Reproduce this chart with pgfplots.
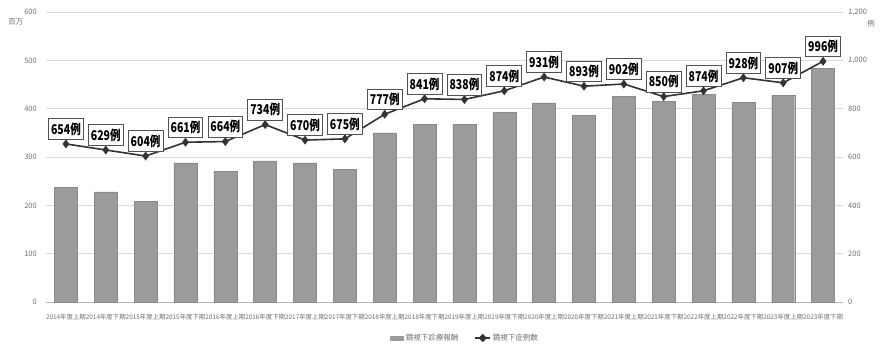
\documentclass[border=0pt]{standalone}
\usepackage{pgfplots}
\pgfplotsset{compat=1.18}
\usepackage{fontspec}
\setmainfont{Noto Sans CJK JP}
\newfontfamily\labfont[FakeStretch=0.78]{Noto Sans CJK JP}
\definecolor{bargray}{HTML}{9B9B9B}
\definecolor{baredge}{HTML}{8A8A8A}
\definecolor{gridc}{HTML}{D9D9D9}
\definecolor{tickc}{HTML}{6E6E6E}
\definecolor{linec}{HTML}{333333}
\begin{document}
\begin{tikzpicture}
\path[use as bounding box] (0,0) rectangle (890pt,353pt);
\begin{axis}[
  at={(46pt,51pt)}, anchor=south west, scale only axis,
  width=797pt, height=290pt,
  xmin=-0.5, xmax=19.5, ymin=0, ymax=600,
  ytick={0,100,...,600},
  xtick={0,...,19},
  xticklabels={2014年度上期,2014年度下期,2015年度上期,2015年度下期,2016年度上期,2016年度下期,2017年度上期,2017年度下期,2018年度上期,2018年度下期,2019年度上期,2019年度下期,2020年度上期,2020年度下期,2021年度上期,2021年度下期,2022年度上期,2022年度下期,2023年度上期,2023年度下期},
  xticklabel style={font=\fontsize{6.4}{7}\selectfont, text=tickc, inner sep=0pt, yshift=-12pt},
  yticklabel style={font=\fontsize{7.5}{8}\selectfont, text=tickc, inner sep=0pt, xshift=-9pt},
  /pgf/number format/assume math mode=true,
  major tick length=0pt,
  separate axis lines,
  axis x line*=bottom, axis y line*=left,
  x axis line style={draw=gray!55, line width=0.8pt, -},
  y axis line style={draw=none},
  ymajorgrids, grid style={gridc, line width=0.8pt},
]
\addplot[ybar, bar width=23pt, fill=bargray, draw=baredge] coordinates {
(0,237) (1,228) (2,208) (3,288) (4,271) (5,292) (6,288) (7,274)
(8,350) (9,368) (10,367) (11,392) (12,412) (13,386) (14,426) (15,415)
(16,430) (17,413) (18,427) (19,483)};
\end{axis}
\begin{axis}[
  at={(46pt,51pt)}, anchor=south west, scale only axis,
  width=797pt, height=290pt,
  xmin=-0.5, xmax=19.5, ymin=0, ymax=1200,
  ytick={0,200,...,1200},
  xtick=\empty,
  hide x axis,
  axis y line*=right,
  y axis line style={draw=none},
  major tick length=0pt,
  yticklabel style={font=\fontsize{7.5}{8}\selectfont, text=tickc, inner sep=0pt, xshift=5pt, anchor=west},
  /pgf/number format/.cd, 1000 sep={,}, assume math mode=true,
  /pgfplots/.cd,
  clip=false,
  legend style={at={(0.526,-0.124)}, anchor=center, draw=none, fill=none,
    legend columns=2, font=\fontsize{7.5}{8}\selectfont, text=tickc,
    /tikz/every even column/.append style={column sep=14pt},
    inner sep=0pt},
]
\addlegendimage{legend image code/.code={\fill[bargray] (0pt,-2pt) rectangle (13pt,2pt);}}
\addlegendentry{鏡視下診療報酬}
\addplot[linec, line width=1.6pt, mark=diamond*, mark size=3.2pt,
  mark options={fill=linec, draw=linec},
  nodes near coords={\pgfmathprintnumber[assume math mode=true]{\pgfplotspointmeta}例},
  every node near coord/.append style={font=\labfont\bfseries\fontsize{13.5}{14}\selectfont,
    text=black, draw=linec!85, fill=white, line width=0.8pt, anchor=south, yshift=4pt,
    inner xsep=2.5pt, inner ysep=4pt},
  legend image code/.code={\draw[linec, line width=1.6pt] (0pt,0pt) -- (15pt,0pt); \fill[linec] (7.5pt,0pt) +(0,3pt) -- +(3pt,0) -- +(0,-3pt) -- +(-3pt,0) -- cycle;}
] coordinates {
(0,654) (1,629) (2,604) (3,661) (4,664) (5,734) (6,670) (7,675)
(8,777) (9,841) (10,838) (11,874) (12,931) (13,893) (14,902) (15,850)
(16,874) (17,928) (18,907) (19,996)};
\addlegendentry{鏡視下症例数}
\end{axis}
\node[font=\fontsize{7.5}{8}\selectfont, text=tickc, inner sep=0pt] at (16pt,331pt) {百万};
\node[font=\fontsize{7.5}{8}\selectfont, text=tickc, inner sep=0pt] at (871pt,329pt) {例};
\end{tikzpicture}
\end{document}
